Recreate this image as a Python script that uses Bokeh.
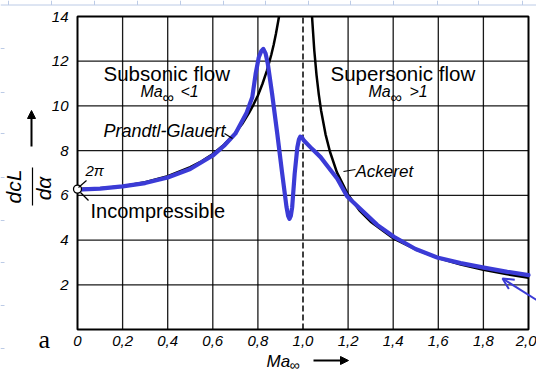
import math
from bokeh.plotting import figure
from bokeh.models import (FixedTicker, CustomJSTickFormatter, Label, Arrow,
                          NormalHead, OpenHead, ColumnDataSource, Range1d,
                          LinearAxis)
from bokeh.embed import file_html
from bokeh.resources import INLINE

# ---------------- data ----------------
x_ticks = [0, 0.2, 0.4, 0.6, 0.8, 1.0, 1.2, 1.4, 1.6, 1.8, 2.0]
x_grid = [0.2, 0.4, 0.6, 0.8, 1.2, 1.4, 1.6, 1.8]
y_ticks = [2, 4, 6, 8, 10, 12, 14]
y_grid = [2, 4, 6, 8, 10, 12]
x_lim = [0.0, 2.0]
y_lim = [0.0, 14.0]
sonic_M = [1.0]

# Prandtl-Glauert (subsonic theory)
pg_M = [0.0, 0.1, 0.2, 0.3, 0.4, 0.5, 0.55, 0.6, 0.65, 0.7, 0.73, 0.76, 0.78,
        0.8, 0.82, 0.84, 0.86, 0.87, 0.88, 0.89, 0.8936]
pg_v = [6.28, 6.32, 6.41, 6.59, 6.86, 7.26, 7.52, 7.85, 8.27, 8.80, 9.19, 9.68,
        10.05, 10.47, 10.98, 11.58, 12.31, 12.74, 13.23, 13.79, 14.0]

# Ackeret (supersonic theory)
ack_M = [1.04, 1.05, 1.06, 1.07, 1.08, 1.1, 1.12, 1.15, 1.2, 1.25, 1.3,
         1.4, 1.5, 1.6, 1.7, 1.8, 1.9, 2.0]
ack_v = [14.0, 12.49, 11.38, 10.52, 9.81, 8.73, 7.94, 7.04, 6.03, 5.33,
         4.82, 4.08, 3.58, 3.20, 2.91, 2.67, 2.48, 2.31]

# Measured / real curve (blue)
blue_M = [0.0, 0.1, 0.2, 0.3, 0.4, 0.5, 0.6, 0.65, 0.7, 0.75, 0.775, 0.79,
          0.804, 0.815, 0.824, 0.834, 0.844, 0.863, 0.886, 0.908, 0.927, 0.934,
          0.940, 0.946, 0.952, 0.963, 0.975, 0.982, 0.988, 0.995, 1.004, 1.04,
          1.078, 1.115, 1.152, 1.196, 1.256, 1.329, 1.403, 1.499, 1.595, 1.699,
          1.802, 1.906, 2.0]
blue_v = [6.26, 6.30, 6.40, 6.55, 6.80, 7.18, 7.78, 8.22, 8.76, 9.70, 10.39,
          11.44, 12.18, 12.45, 12.55, 12.35, 11.88, 10.54, 8.75, 6.96, 5.47,
          5.08, 4.95, 5.08, 5.47, 6.96, 8.15, 8.50, 8.63, 8.60, 8.45, 8.08,
          7.71, 7.22, 6.74, 5.95, 5.38, 4.68, 4.15, 3.60, 3.22, 2.97, 2.77,
          2.58, 2.43]

incompressible_M = [0.0]
incompressible_v = [6.28]

# ---------------- layout helpers (pixel -> data) ----------------
W, H = 536, 372
L, R, T, B = 77, 528, 16, 329


def X(px):
    return (px - L) / (R - L) * (x_lim[1] - x_lim[0]) + x_lim[0]


def Y(py):
    return (B - py) / (B - T) * (y_lim[1] - y_lim[0]) + y_lim[0]


BLUE = "#3b3bd6"
SS = "#bccbe6"

p = figure(width=W, height=H, x_range=Range1d(X(0), X(W)),
           y_range=Range1d(Y(H), Y(0)),
           output_backend="svg", toolbar_location=None,
           x_axis_location=None, y_axis_location=None,
           min_border=0)
p.title.visible = False
p.background_fill_color = "white"
p.border_fill_color = "white"
p.outline_line_color = None
p.xgrid.visible = False
p.ygrid.visible = False

# axes (fixed at the edges of the drawing box)
xaxis = LinearAxis(fixed_location=0, ticker=FixedTicker(ticks=x_ticks),
                   formatter=CustomJSTickFormatter(
                       code="return tick == 0 ? '0' : tick.toFixed(1).replace('.', ',');"))
yaxis = LinearAxis(fixed_location=0, ticker=FixedTicker(ticks=y_ticks))
for ax in (xaxis, yaxis):
    ax.axis_line_color = None
    ax.major_tick_line_color = None
    ax.minor_tick_line_color = None
    ax.major_label_text_font = "Liberation Sans"
    ax.major_label_text_font_style = "italic"
    ax.major_label_text_font_size = "15px"
    ax.major_label_text_color = "black"
xaxis.major_label_standoff = 0
yaxis.major_label_standoff = 3
p.add_layout(xaxis, "below")
p.add_layout(yaxis, "left")

# grid lines and box
p.segment(x0=x_grid, y0=y_lim[0], x1=x_grid, y1=y_lim[1],
          line_color="black", line_width=1.3, line_alpha=0.9)
p.segment(x0=x_lim[0], y0=y_grid, x1=x_lim[1], y1=y_grid,
          line_color="black", line_width=1.3, line_alpha=0.9)
p.segment(x0=sonic_M, y0=y_lim[0], x1=sonic_M, y1=y_lim[1],
          line_color="black", line_width=1.5, line_dash="6 3")
p.quad(left=x_lim[0], right=x_lim[1], bottom=y_lim[0], top=y_lim[1],
       fill_color=None, line_color="black", line_width=2)

# curves
p.line(pg_M, pg_v, line_color="black", line_width=2.5)
p.line(ack_M, ack_v, line_color="black", line_width=2.5)
p.line(blue_M, blue_v, line_color=BLUE, line_width=4.2,
       line_join="round", line_cap="round")
p.scatter(incompressible_M, incompressible_v, size=8, marker="circle",
          fill_color="white", line_color="black", line_width=1.3)


# ---------------- texts ----------------
def lab(txt, px, py, size, style="normal", font="Liberation Sans",
        align="left", baseline="alphabetic", angle=0.0, color="black"):
    # py is the wanted baseline in pixels; the renderer puts alphabetic
    # text about 0.36 em lower, so compensate
    if baseline == "alphabetic":
        py = py - 0.36 * size
    p.add_layout(Label(x=X(px), y=Y(py), text=txt, text_font=font,
                       text_font_size=f"{size}px", text_font_style=style,
                       text_align=align, text_baseline=baseline, angle=angle,
                       text_color=color))


lab("Subsonic flow", 103, 80, 20.5)
lab("Supersonic flow", 330, 80, 20.5)
lab("Ma", 140, 97, 16, "italic")
lab("\u221e", 162, 103, 16)
lab("<1", 180, 97, 16, "italic")
lab("Ma", 368, 97, 16, "italic")
lab("\u221e", 390, 103, 16)
lab(">1", 409, 97, 16, "italic")
lab("Prandtl-Glauert", 103, 137, 18, "italic")
lab("Ackeret", 355, 177, 17, "italic")
lab("2\u03c0", 85, 175, 15, "italic")
lab("Incompressible", 90, 218, 20)
lab("a", 38, 348, 26, font="Liberation Serif")
lab("Ma", 266, 367, 17, "italic")
lab("\u221e", 289, 370, 14)
lab("dcL", 13, 186, 21, "italic", align="center", baseline="middle",
    angle=math.pi / 2)
lab("d\u03b1", 43, 188, 21, "italic", align="center", baseline="middle",
    angle=math.pi / 2)

# leader lines, fraction bar
segs = dict(x0=[X(224), X(343), X(78), X(80), X(32)],
            y0=[Y(133), Y(171), Y(187), Y(192), Y(167)],
            x1=[X(232), X(355), X(86), X(88), X(32)],
            y1=[Y(138), Y(169), Y(180), Y(200), Y(205)])
p.add_layout(Arrow(x_start="x0", y_start="y0", x_end="x1", y_end="y1",
                   source=ColumnDataSource(segs), end=None,
                   line_color="black", line_width=1.2))

# axis arrows
p.add_layout(Arrow(x_start=X(31), y_start=Y(146), x_end=X(31), y_end=Y(110),
                   line_color="black", line_width=2,
                   end=NormalHead(size=8, fill_color="black", line_color="black")))
p.add_layout(Arrow(x_start=X(313), y_start=Y(360), x_end=X(348), y_end=Y(360),
                   line_color="black", line_width=2,
                   end=NormalHead(size=8, fill_color="black", line_color="black")))

# blue pointer arrow
p.add_layout(Arrow(x_start=X(540), y_start=Y(302), x_end=X(502), y_end=Y(278),
                   line_color=BLUE, line_width=2,
                   end=OpenHead(size=11, line_color=BLUE, line_width=2)))

# spreadsheet background artefacts
vx = [8, 51, 94, 137, 180, 223, 265, 308, 350, 393, 437, 478, 522]
hy = [48, 92, 133, 177, 220, 262, 305, 348]
ss = dict(x0=[X(v) for v in vx] + [X(0)] + [X(0)] * len(hy),
          y0=[Y(0)] * len(vx) + [Y(4.5)] + [Y(h) for h in hy],
          x1=[X(v) for v in vx] + [X(536)] + [X(4)] * len(hy),
          y1=[Y(4.5)] * len(vx) + [Y(4.5)] + [Y(h) for h in hy])
p.add_layout(Arrow(x_start="x0", y_start="y0", x_end="x1", y_end="y1",
                   source=ColumnDataSource(ss), end=None,
                   line_color=SS, line_width=1))

open("out.html", "w").write(file_html(p, INLINE))
